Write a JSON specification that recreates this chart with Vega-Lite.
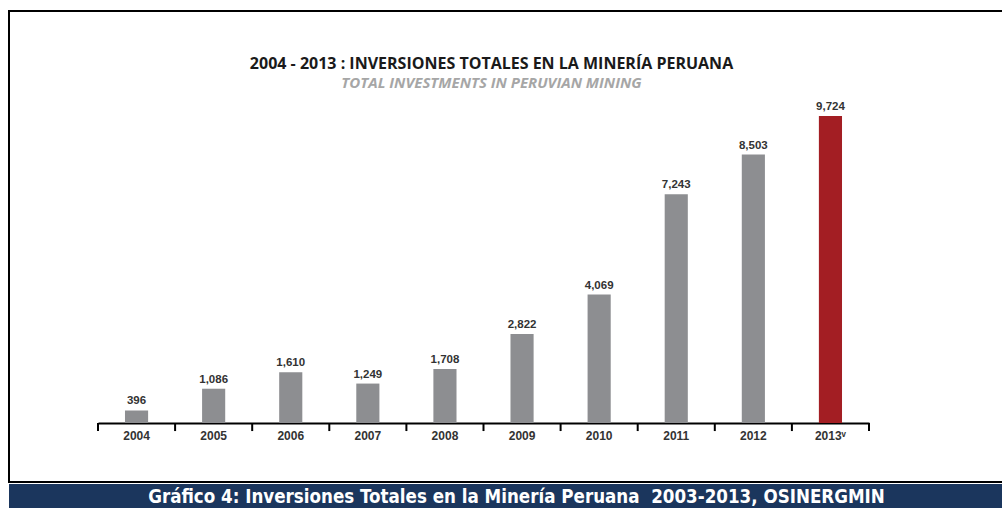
{
  "$schema": "https://vega.github.io/schema/vega-lite/v6.json",
  "padding": {"left": 8, "top": 10, "right": 0, "bottom": 0},
  "background": "white",
  "spacing": 1,
  "vconcat": [
    {
      "width": 995,
      "height": 471,
      "view": {"stroke": "black", "strokeWidth": 2},
      "title": {
        "text": "2004 - 2013 : INVERSIONES TOTALES EN LA MINERÍA PERUANA",
        "subtitle": "TOTAL INVESTMENTS IN PERUVIAN MINING",
        "anchor": "middle",
        "frame": "group",
        "offset": -80,
        "dx": -15,
        "font": "Open Sans",
        "fontSize": 16,
        "fontWeight": "bold",
        "color": "#1a1a1a",
        "subtitleFont": "Open Sans",
        "subtitleFontSize": 15,
        "subtitleFontStyle": "italic",
        "subtitleFontWeight": "bold",
        "subtitleColor": "#a6a6a6",
        "subtitlePadding": 4
      },
      "data": {
        "values": [
          {"year": "2004", "value": 396, "tipo": "real"},
          {"year": "2005", "value": 1086, "tipo": "real"},
          {"year": "2006", "value": 1610, "tipo": "real"},
          {"year": "2007", "value": 1249, "tipo": "real"},
          {"year": "2008", "value": 1708, "tipo": "real"},
          {"year": "2009", "value": 2822, "tipo": "real"},
          {"year": "2010", "value": 4069, "tipo": "real"},
          {"year": "2011", "value": 7243, "tipo": "real"},
          {"year": "2012", "value": 8503, "tipo": "real"},
          {"year": "2013ᵛ", "value": 9724, "tipo": "estimado"}
        ]
      },
      "encoding": {
        "x": {
          "field": "year",
          "type": "nominal",
          "sort": null,
          "scale": {"range": [89, 860], "paddingInner": 0, "paddingOuter": 0},
          "axis": {
            "orient": "bottom",
            "offset": -59,
            "title": null,
            "grid": false,
            "ticks": false,
            "domainColor": "black",
            "domainWidth": 2,
            "labelAngle": 0,
            "labelFont": "Liberation Sans",
            "labelFontWeight": "bold",
            "labelFontSize": 12,
            "labelColor": "#333333",
            "labelPadding": 7
          }
        },
        "y": {
          "field": "value",
          "type": "quantitative",
          "scale": {"domain": [0, 9724], "range": [412, 105], "nice": false},
          "axis": null
        }
      },
      "layer": [
        {
          "mark": {"type": "bar", "width": {"band": 0.3}},
          "encoding": {
            "color": {
              "field": "tipo",
              "type": "nominal",
              "scale": {"domain": ["real", "estimado"], "range": ["#8d8e91", "#a31e23"]},
              "legend": null
            }
          }
        },
        {
          "mark": {
            "type": "text",
            "baseline": "bottom",
            "dy": -4,
            "font": "Liberation Sans",
            "fontWeight": "bold",
            "fontSize": 11.5,
            "color": "#333333"
          },
          "encoding": {
            "text": {"field": "value", "type": "quantitative", "format": ",d"}
          }
        },
        {
          "mark": {"type": "rule", "color": "black", "strokeWidth": 2},
          "encoding": {
            "x": {"field": "year", "type": "nominal", "sort": null, "bandPosition": 0},
            "y": {"datum": 0},
            "y2": {"datum": -255}
          }
        },
        {
          "transform": [{"filter": "datum.tipo == 'estimado'"}],
          "mark": {"type": "rule", "color": "black", "strokeWidth": 2},
          "encoding": {
            "x": {"field": "year", "type": "nominal", "sort": null, "bandPosition": 1},
            "y": {"datum": 0},
            "y2": {"datum": -255}
          }
        }
      ]
    },
    {
      "width": 995,
      "height": 26,
      "view": {"stroke": null, "fill": "#1b365d"},
      "data": {"values": [{"caption": "Gráfico 4: Inversiones Totales en la Minería Peruana\u00a0 2003-2013, OSINERGMIN"}]},
      "mark": {
        "type": "text",
        "font": "Liberation Sans Narrow, DejaVu Sans Condensed, Liberation Sans",
        "fontWeight": "bold",
        "fontSize": 18.6,
        "color": "white",
        "baseline": "middle",
        "dx": 10
      },
      "encoding": {"text": {"field": "caption", "type": "nominal"}}
    }
  ]
}
